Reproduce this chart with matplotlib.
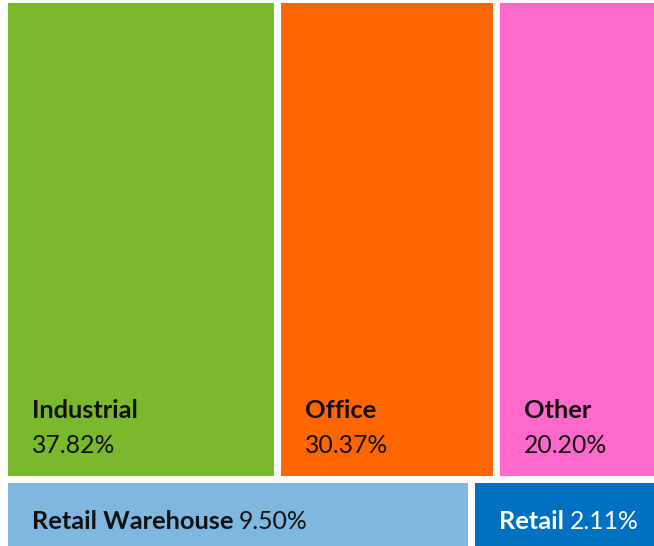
import matplotlib.pyplot as plt
import matplotlib.patches as patches

categories = ["Industrial", "Office", "Other", "Retail Warehouse", "Retail"]
shares = [37.82, 30.37, 20.20, 9.50, 2.11]
colors = ["#7ab92c", "#ff6600", "#ff69cc", "#80b7de", "#0070c0"]
text_colors = ["#111111", "#111111", "#111111", "#111111", "#ffffff"]
rows = [[0, 1, 2], [3, 4]]
row_min = [0.246, 0.285]   # smallest tile fraction allowed in each row
row_height_min = 0.128     # smallest row fraction allowed

W, H = 653, 550   # treemap canvas
pad = 3.5
inset = 24

plt.rcParams['font.family'] = ['Lato', 'DejaVu Sans']


def split(values, length, min_frac):
    total = sum(values)
    fr = [v / total for v in values]
    small = [f < min_frac for f in fr]
    fixed = sum(min_frac for s in small if s)
    rest = sum(f for f, s in zip(fr, small) if not s)
    out = []
    for f, s in zip(fr, small):
        out.append(min_frac if s else f / rest * (1 - fixed))
    return [o * length for o in out]


fig = plt.figure(figsize=(6.54, 5.46), dpi=100)
ax = fig.add_axes([4.5 / 654, -3.5 / 546, W / 654, H / 546])
ax.set_xlim(0, W)
ax.set_ylim(H, 0)
ax.axis("off")

row_sums = [sum(shares[i] for i in r) for r in rows]
row_h = split(row_sums, H, row_height_min)

y = 0
for k, (r, rh) in enumerate(zip(rows, row_h)):
    widths = split([shares[i] for i in r], W, row_min[k])
    x = 0
    for i, w in zip(r, widths):
        x0, y0 = x + pad, y + pad
        ww, hh = w - 2 * pad, rh - 2 * pad
        ax.add_patch(patches.Rectangle((x0, y0), ww, hh, fc=colors[i], ec="none"))
        pct = f"{shares[i]:.2f}%"
        if len(r) == 3:
            ax.text(x0 + inset, y0 + hh - 58, categories[i], fontsize=18.3,
                    fontweight="bold", color=text_colors[i], va="baseline")
            ax.text(x0 + inset, y0 + hh - 23, pct, fontsize=17.8,
                    color=text_colors[i], va="baseline")
        else:
            t = ax.text(x0 + inset, y0 + 46, categories[i], fontsize=18.3,
                        fontweight="bold", color=text_colors[i], va="baseline")
            ax.annotate(pct, xy=(1, 0), xycoords=t, xytext=(4, 0),
                        textcoords="offset points", fontsize=17.8,
                        color=text_colors[i], va="bottom")
        x += w
    y += rh

fig.savefig("out.png", dpi=100)
